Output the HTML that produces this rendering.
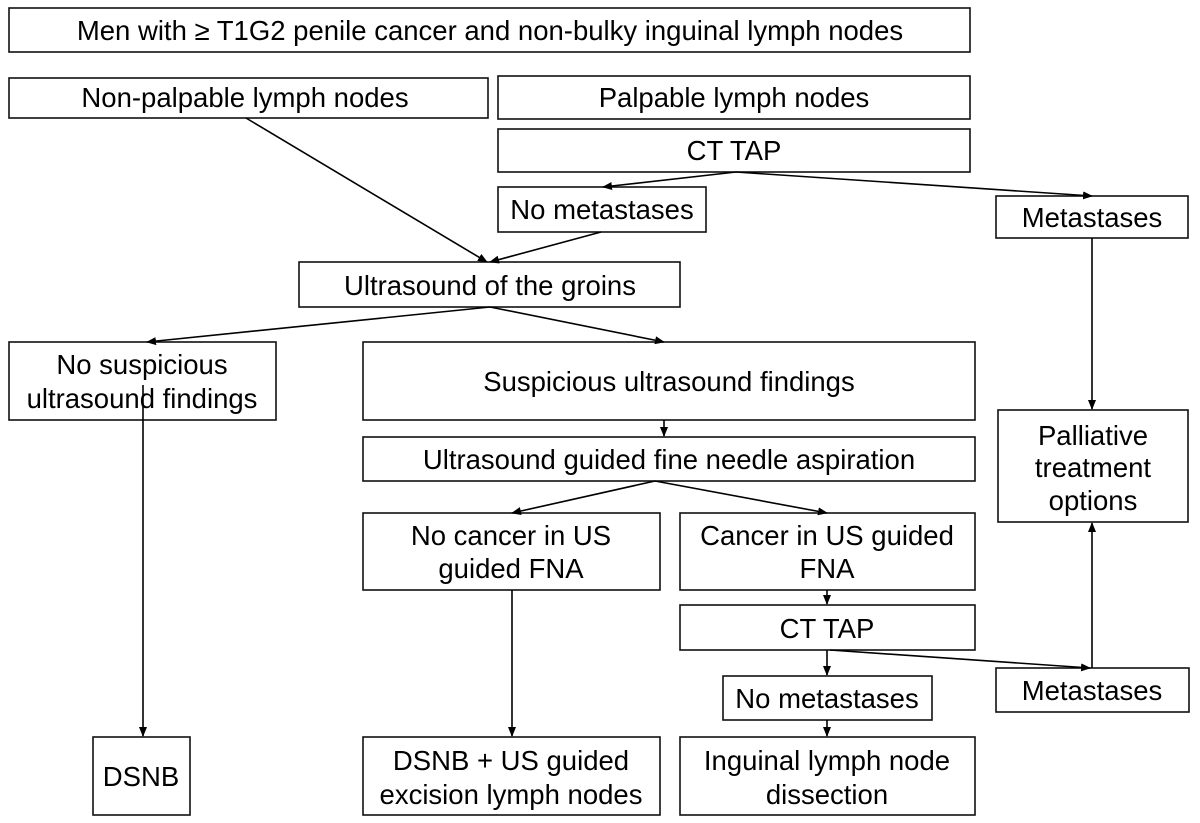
<!DOCTYPE html>
<html><head><meta charset="utf-8"><style>
html,body{margin:0;padding:0;background:#fff;}
svg text{font-family:"Liberation Sans",Arial,sans-serif;font-size:27.5px;fill:#000;text-anchor:middle;}
</style></head><body>
<svg width="1200" height="818" viewBox="0 0 1200 818" xmlns="http://www.w3.org/2000/svg">
<defs><marker id="a" markerWidth="10" markerHeight="10" refX="9" refY="5" orient="auto" markerUnits="userSpaceOnUse"><path d="M0,1 L10,5 L0,9 z" fill="#000"/></marker></defs>
<g fill="#fff" stroke="#111" stroke-width="1.6">
<rect x="9" y="8" width="961" height="44"/>
<rect x="9" y="78" width="479" height="40"/>
<rect x="498" y="76" width="472" height="43"/>
<rect x="498" y="129" width="472" height="43"/>
<rect x="498" y="187" width="208" height="45"/>
<rect x="996" y="196" width="192" height="42"/>
<rect x="299" y="262" width="381" height="45"/>
<rect x="9" y="342" width="267" height="78"/>
<rect x="363" y="342" width="612" height="78"/>
<rect x="363" y="437" width="612" height="44"/>
<rect x="998" y="410" width="190" height="112"/>
<rect x="363" y="513" width="297" height="77"/>
<rect x="680" y="513" width="295" height="77"/>
<rect x="680" y="605" width="295" height="45"/>
<rect x="723" y="676" width="209" height="44"/>
<rect x="996" y="668" width="193" height="44"/>
<rect x="93" y="737" width="97" height="78"/>
<rect x="363" y="737" width="297" height="78"/>
<rect x="680" y="737" width="295" height="78"/>
</g>
<g stroke="#000" stroke-width="1.6" fill="none" marker-end="url(#a)">
<line x1="246" y1="118" x2="487" y2="262"/>
<line x1="601" y1="232" x2="490" y2="262"/>
<line x1="736" y1="172" x2="603" y2="187"/>
<line x1="736" y1="172" x2="1092" y2="196"/>
<line x1="490" y1="307" x2="147" y2="342"/>
<line x1="490" y1="307" x2="664" y2="342"/>
<line x1="1092" y1="238" x2="1092" y2="409"/>
<line x1="143" y1="385" x2="143" y2="736"/>
<line x1="664" y1="420" x2="664" y2="436"/>
<line x1="655" y1="481" x2="512" y2="513"/>
<line x1="655" y1="481" x2="827" y2="513"/>
<line x1="512" y1="590" x2="512" y2="736"/>
<line x1="827" y1="590" x2="827" y2="604"/>
<line x1="827" y1="650" x2="827" y2="675"/>
<line x1="830" y1="650" x2="1090" y2="668"/>
<line x1="1092" y1="668" x2="1092" y2="523"/>
<line x1="827" y1="720" x2="827" y2="736"/>
</g>
<text x="490" y="40">Men with ≥ T1G2 penile cancer and non-bulky inguinal lymph nodes</text>
<text x="245" y="107">Non-palpable lymph nodes</text>
<text x="734" y="107">Palpable lymph nodes</text>
<text x="734" y="160">CT TAP</text>
<text x="602" y="219">No metastases</text>
<text x="1092" y="227">Metastases</text>
<text x="490" y="295">Ultrasound of the groins</text>
<text x="142" y="374">No suspicious</text>
<text x="142" y="408">ultrasound findings</text>
<text x="669" y="391">Suspicious ultrasound findings</text>
<text x="669" y="469">Ultrasound guided fine needle aspiration</text>
<text x="1093" y="445">Palliative</text>
<text x="1093" y="477">treatment</text>
<text x="1093" y="510">options</text>
<text x="511" y="545">No cancer in  US</text>
<text x="511" y="578">guided FNA</text>
<text x="827" y="545">Cancer in US guided</text>
<text x="827" y="578">FNA</text>
<text x="827" y="638">CT TAP</text>
<text x="827" y="708">No metastases</text>
<text x="1092" y="700">Metastases</text>
<text x="141" y="786">DSNB</text>
<text x="511" y="770">DSNB + US guided</text>
<text x="511" y="804">excision lymph nodes</text>
<text x="827" y="770">Inguinal lymph node</text>
<text x="827" y="804">dissection</text>
</svg>
</body></html>
